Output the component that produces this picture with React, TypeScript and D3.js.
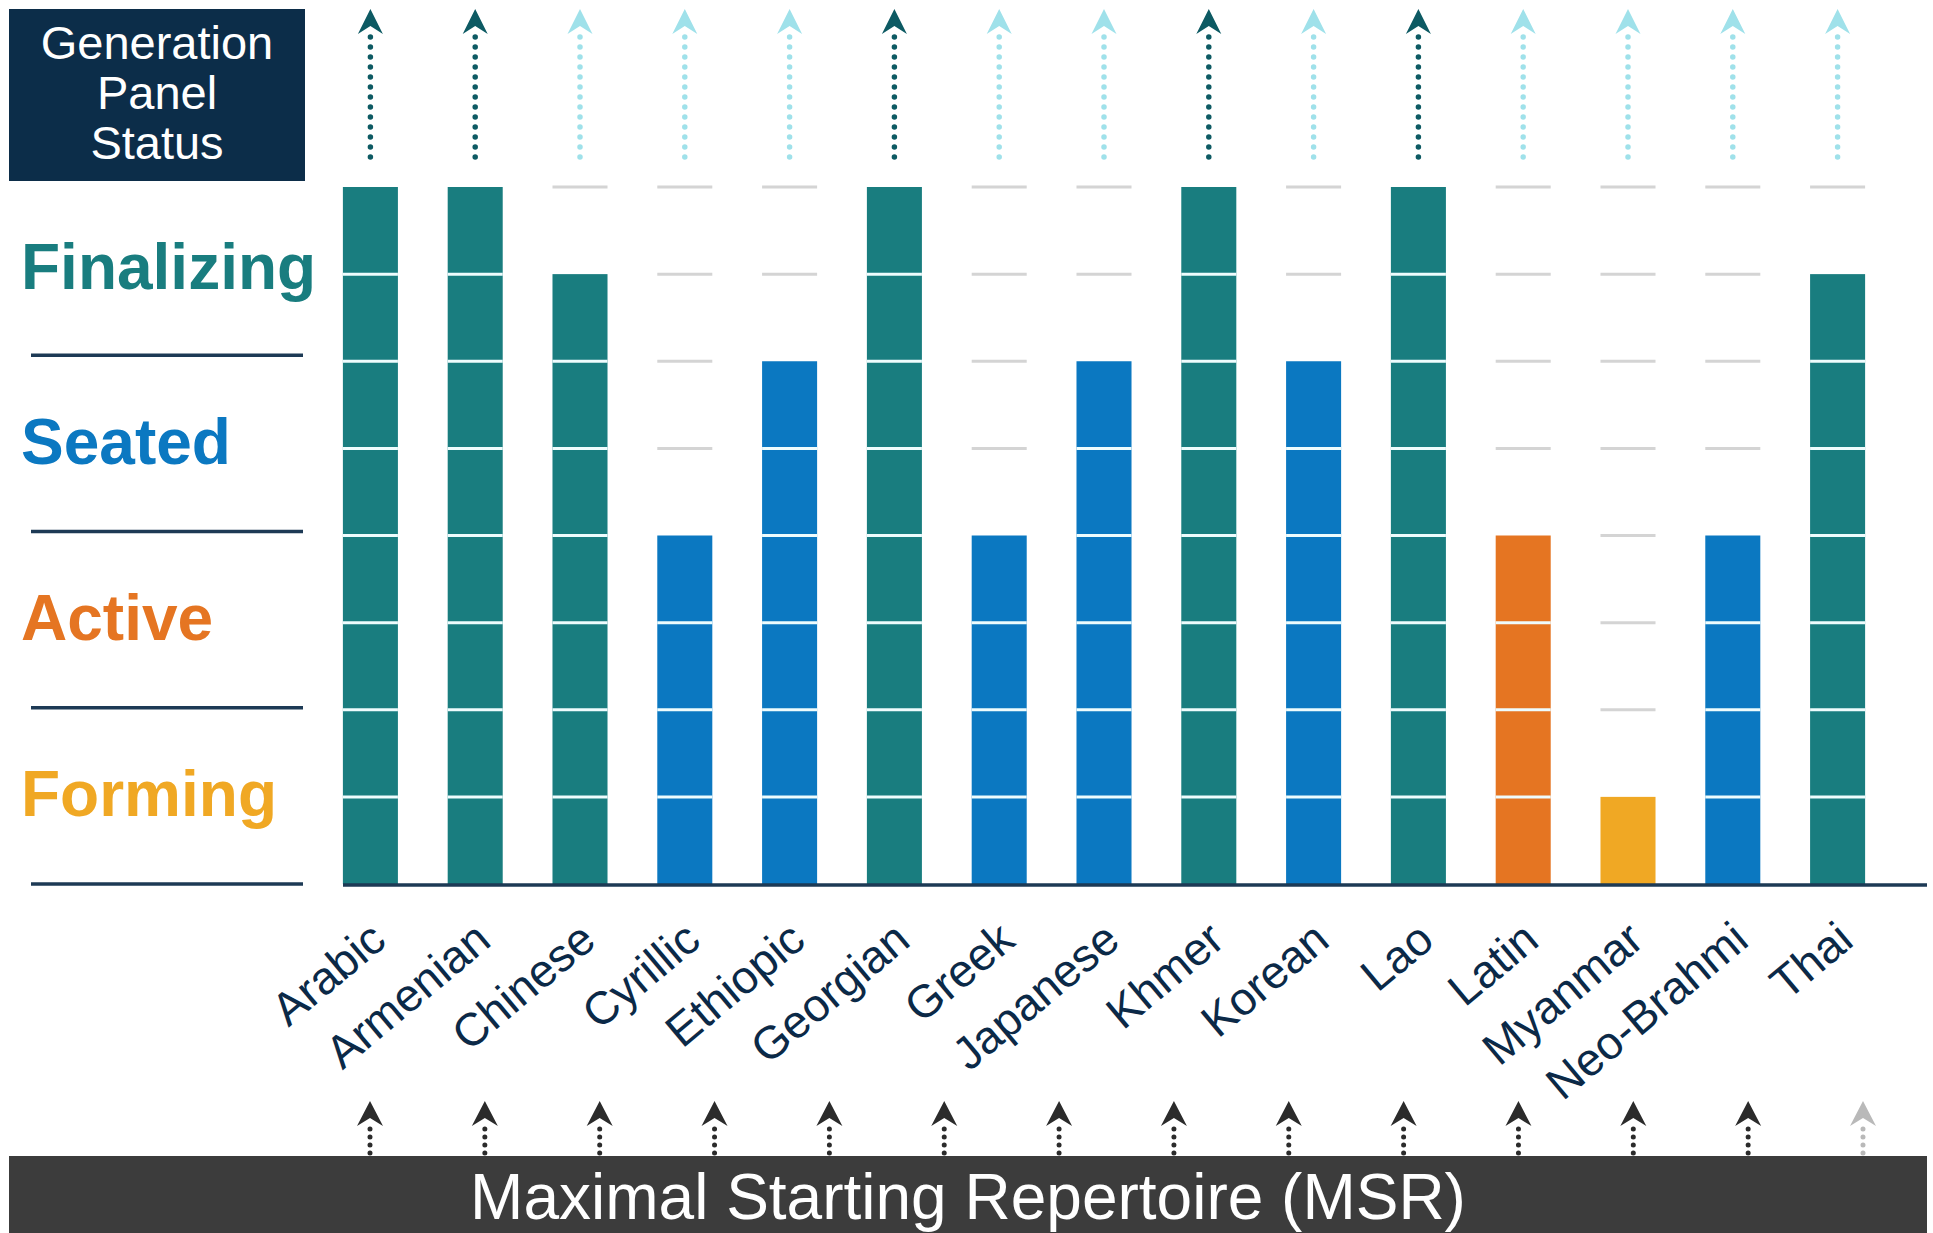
import { useRef, useEffect } from "react";
import * as d3 from "d3";

const categories = [
  "Arabic", "Armenian", "Chinese", "Cyrillic", "Ethiopic", "Georgian", "Greek",
  "Japanese", "Khmer", "Korean", "Lao", "Latin", "Myanmar", "Neo-Brahmi", "Thai",
];
// progress in steps (8 = complete)
const progress = [8, 8, 7, 4, 6, 8, 4, 6, 8, 6, 8, 4, 1, 4, 7];
const status = [
  "Finalizing", "Finalizing", "Finalizing", "Seated", "Seated", "Finalizing", "Seated",
  "Seated", "Finalizing", "Seated", "Finalizing", "Active", "Forming", "Seated", "Finalizing",
];
const stages = ["Forming", "Active", "Seated", "Finalizing"];
const stageColors = ["#f0a824", "#e57522", "#0b78c1", "#197d7f"];
// MSR input arrows along the bottom (true = delivered)
const msrInputs = [true, true, true, true, true, true, true, true, true, true, true, true, true, false];

const FONT = "'Liberation Sans', Arial, sans-serif";

const App = () => {
  const svgRef = useRef(null);

  useEffect(() => {
    document.body.style.margin = "0";
    d3.select(svgRef.current).selectAll("*").remove();

    const width = 1933;
    const height = 1233;
    const maxSteps = 8;

    const svg = d3
      .select(svgRef.current)
      .attr("width", width)
      .attr("height", height)
      .style("font-family", FONT);

    svg.append("rect").attr("width", width).attr("height", height).attr("fill", "#ffffff");

    const x = d3
      .scaleBand()
      .domain(categories)
      .range([318, 1890])
      .paddingInner(0.475)
      .paddingOuter(0.2375);

    const y = d3.scaleLinear().domain([0, maxSteps]).range([884, 187]);
    const color = d3.scaleOrdinal().domain(stages).range(stageColors);

    const bw = x.bandwidth();

    // header box
    svg.append("rect")
      .attr("x", 9).attr("y", 9).attr("width", 296).attr("height", 172)
      .attr("fill", "#0c2d49");
    ["Generation", "Panel", "Status"].forEach((t, i) => {
      svg.append("text")
        .attr("x", 157).attr("y", 59 + i * 50)
        .attr("text-anchor", "middle")
        .attr("fill", "#ffffff")
        .style("font-size", "47px")
        .text(t);
    });

    // stage labels on the left
    stages.forEach((s, i) => {
      const mid = (y(i * 2) + y(i * 2 + 2)) / 2;
      svg.append("text")
        .attr("x", 21).attr("y", mid + 19 - i * 1.5)
        .attr("fill", stageColors[i])
        .style("font-size", "64px")
        .style("font-weight", "bold")
        .text(s);
      const ly = y(i * 2) - i * 2;
      svg.append("line")
        .attr("x1", 31).attr("x2", 303)
        .attr("y1", ly).attr("y2", ly)
        .attr("stroke", "#1d3a55")
        .attr("stroke-width", 3.5);
    });

    const data = categories.map((c, i) => ({ name: c, value: progress[i], status: status[i] }));

    // gray placeholders for steps not reached yet
    data.forEach((d) => {
      for (let k = d.value + 1; k <= maxSteps; k++) {
        svg.append("line")
          .attr("x1", x(d.name)).attr("x2", x(d.name) + bw)
          .attr("y1", y(k)).attr("y2", y(k))
          .attr("stroke", "#d4d4d4")
          .attr("stroke-width", 3);
      }
    });

    // bars
    svg.selectAll("rect.bar")
      .data(data)
      .enter()
      .append("rect")
      .attr("class", "bar")
      .attr("x", (d) => x(d.name))
      .attr("y", (d) => y(d.value))
      .attr("width", bw)
      .attr("height", (d) => y(0) - y(d.value))
      .attr("fill", (d) => color(d.status));

    // white step separators inside bars
    data.forEach((d) => {
      for (let k = 1; k < d.value; k++) {
        svg.append("line")
          .attr("x1", x(d.name)).attr("x2", x(d.name) + bw)
          .attr("y1", y(k)).attr("y2", y(k))
          .attr("stroke", "#eefcfd")
          .attr("stroke-width", 3);
      }
    });

    // baseline
    svg.append("line")
      .attr("x1", 343).attr("x2", 1927)
      .attr("y1", y(0) + 1).attr("y2", y(0) + 1)
      .attr("stroke", "#1d3a55")
      .attr("stroke-width", 3.5);

    const arrowHead = (cx, tip, w, h, fill) => {
      svg.append("path")
        .attr("d", `M${cx},${tip} L${cx + w / 2},${tip + h} L${cx},${tip + h * 0.68} L${cx - w / 2},${tip + h} Z`)
        .attr("fill", fill);
    };

    const dotted = (cx, y1, y2, stroke, gap, sw) => {
      svg.append("line")
        .attr("x1", cx).attr("x2", cx)
        .attr("y1", y1).attr("y2", y2)
        .attr("stroke", stroke)
        .attr("stroke-width", sw)
        .attr("stroke-linecap", "round")
        .attr("stroke-dasharray", `0 ${gap}`);
    };

    // top arrows: dark when complete
    data.forEach((d) => {
      const cx = x(d.name) + bw / 2;
      const c = d.value >= maxSteps ? "#0d5a63" : "#9fe1ea";
      dotted(cx, 157, 36, c, 10, 5.5);
      arrowHead(cx, 9, 25, 25, c);
    });

    // category labels
    svg.selectAll("text.cat")
      .data(data)
      .enter()
      .append("text")
      .attr("class", "cat")
      .attr("text-anchor", "end")
      .attr("fill", "#0b2947")
      .style("font-size", "46px")
      .attr("transform", (d) => `translate(${x(d.name) + bw / 2 + 18},944) rotate(-40)`)
      .text((d) => d.name);

    // bottom MSR band
    const xm = d3.scalePoint().domain(d3.range(msrInputs.length)).range([370, 1863]);
    msrInputs.forEach((ok, i) => {
      const c = ok ? "#2b2b2b" : "#b9b9b9";
      dotted(xm(i), 1153, 1127, c, 8, 5);
      arrowHead(xm(i), 1101, 26, 25, c);
    });

    svg.append("rect")
      .attr("x", 9).attr("y", 1156).attr("width", 1918).attr("height", 77)
      .attr("fill", "#3c3c3c");
    svg.append("text")
      .attr("x", 968).attr("y", 1219)
      .attr("text-anchor", "middle")
      .attr("fill", "#ffffff")
      .style("font-size", "64px")
      .text("Maximal Starting Repertoire (MSR)");
  }, []);

  return (
    <div>
      <svg ref={svgRef} style={{ display: "block" }}></svg>
    </div>
  );
};

export default App;
